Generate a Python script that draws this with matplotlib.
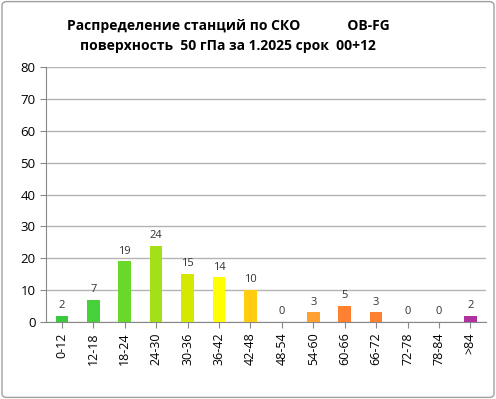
import matplotlib
matplotlib.use("Agg")
from matplotlib import pyplot as plt
from matplotlib.patches import FancyBboxPatch

categories = ["0-12", "12-18", "18-24", "24-30", "30-36", "36-42", "42-48",
              "48-54", "54-60", "60-66", "66-72", "72-78", "78-84", ">84"]
counts = [2, 7, 19, 24, 15, 14, 10, 0, 3, 5, 3, 0, 0, 2]
bar_colors = ["#3cc83c", "#46d03a", "#6ad82a", "#a4e018", "#d4e800", "#ffff00",
              "#ffcc10", "#ffb030", "#ffa030", "#ff8030", "#ff8030", "#ff8030",
              "#ff8030", "#b030a0"]

plt.rcParams["font.family"] = ["Open Sans", "DejaVu Sans"]

fig = plt.figure(figsize=(4.96, 3.99), dpi=100)
fig.patches.append(FancyBboxPatch((0.004, 0.004), 0.992, 0.992,
                                  boxstyle="round,pad=0,rounding_size=0.01",
                                  transform=fig.transFigure, fill=False,
                                  edgecolor="#a0a0a0", linewidth=1))
ax = fig.add_axes([0.093, 0.193, 0.887, 0.639])

x = range(len(categories))
ax.bar(x, counts, width=0.4, color=bar_colors, zorder=3)
for xi, c in zip(x, counts):
    ax.text(xi, c + 1.5, str(c), ha="center", va="bottom", fontsize=8, color="#333333")

ax.set_ylim(0, 80)
ax.set_xlim(-0.5, len(categories) - 0.5)
ax.set_yticks(range(0, 81, 10))
ax.yaxis.grid(True, color="#b4b4b4", linewidth=1, zorder=0)
ax.set_xticks(list(x))
ax.set_xticklabels(categories, rotation=90, fontsize=9)
ax.tick_params(axis="y", labelsize=9.5, length=4, color="#888888")
ax.tick_params(axis="x", length=4, color="#888888")
for s in ["top", "right"]:
    ax.spines[s].set_visible(False)
ax.spines["left"].set_color("#888888")
ax.spines["bottom"].set_color("#888888")

# two-line bold title, as in the original Excel chart
fig.text(0.46, 0.935, "Распределение станций по СКО             OB-FG",
         ha="center", va="center", fontsize=10, fontweight="bold")
fig.text(0.46, 0.885, "поверхность  50 гПа за 1.2025 срок  00+12",
         ha="center", va="center", fontsize=10, fontweight="bold")

fig.savefig("out.png", dpi=100)
